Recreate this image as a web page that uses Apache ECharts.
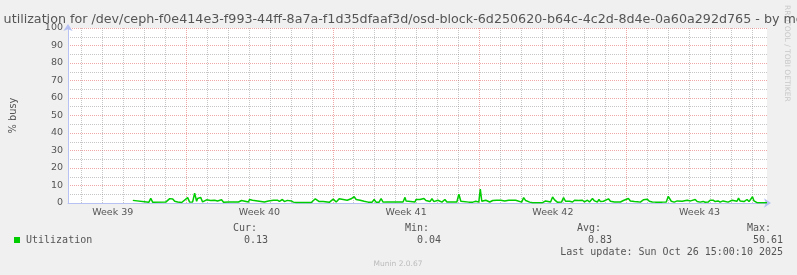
<!DOCTYPE html>
<html><head><meta charset="utf-8">
<script src="https://cdn.jsdelivr.net/npm/echarts@6/dist/echarts.min.js"></script>
<style>html,body{margin:0;padding:0;background:#F0F0F0;} #c{width:797px;height:275px;}</style>
</head><body><div id="c"></div>
<script>
const titleText = 'Disk utilization for /dev/ceph-f0e414e3-f993-44ff-8a7a-f1d35dfaaf3d/osd-block-6d250620-b64c-4c2d-8d4e-0a60a292d765 - by month';
const yAxisName = '% busy';
const weekLabels = ['Week 39', 'Week 40', 'Week 41', 'Week 42', 'Week 43'];
const weekLabelPos = [-3.5, 3.5, 10.5, 17.5, 24.5];
const weekStarts = [0, 7, 14, 21];
const xRange = [-5.633, 27.717]; // days relative to Mon 29 Sep 2025 00:00
const yTicks = [0, 10, 20, 30, 40, 50, 60, 70, 80, 90, 100];

// days since Mon 29 Sep 2025 00:00
const days = [
 -2.540,-2.445,-1.779,-1.684,-1.589,-0.970,-0.875,-0.780,-0.685,-0.637,-0.542,-0.495,-0.400,-0.209,
 0.076,0.171,0.314,0.409,0.504,0.552,0.647,0.695,0.790,0.980,1.075,1.170,1.265,1.361,1.456,1.503,1.598,1.693,1.789,
 2.026,2.502,2.645,2.740,2.978,3.025,3.168,3.263,3.739,3.929,4.024,4.167,4.262,4.357,4.453,4.595,4.690,4.833,4.928,
 5.023,5.119,5.261,5.975,6.070,6.165,6.260,6.355,6.546,6.641,6.831,
 7.021,7.116,7.164,7.307,7.402,7.497,7.592,7.687,7.782,7.878,7.925,8.020,8.116,8.211,8.306,8.401,8.496,8.591,8.686,
 8.877,8.972,9.067,9.162,9.209,9.305,9.400,9.543,10.351,10.447,10.494,10.589,10.922,10.970,11.065,11.160,11.255,
 11.350,11.445,11.540,11.636,11.731,11.826,12.016,12.111,12.207,12.349,12.444,12.920,13.015,13.110,13.158,13.491,
 13.586,13.681,13.824,13.872,13.967,14.038,14.109,14.157,14.300,14.395,14.490,14.633,14.728,14.823,14.918,15.013,
 15.108,15.204,15.299,15.394,15.489,15.727,15.822,16.012,16.107,16.203,16.298,16.393,16.536,17.011,17.154,17.249,
 17.392,17.487,17.582,17.630,17.725,17.915,18.010,18.106,18.201,18.296,18.367,18.438,18.534,18.629,18.724,18.819,
 18.914,19.010,19.152,19.248,19.390,19.486,19.557,19.628,19.700,19.771,19.914,20.009,20.152,20.247,20.342,20.437,
 20.509,20.580,20.652,20.723,20.866,20.961,21.103,21.199,21.294,21.389,21.460,21.532,21.603,21.675,21.817,21.889,
 22.008,22.103,22.175,22.246,22.317,22.389,22.531,22.626,22.722,22.912,23.007,23.055,23.150,23.219,23.290,23.433,
 23.528,23.671,23.766,23.909,24.004,24.075,24.147,24.290,24.385,24.456,24.528,24.670,24.766,24.908,25.004,25.146,
 25.242,25.384,25.480,25.622,25.717,25.860,25.955,26.050,26.145,26.288,26.359,26.431,26.526,26.621,26.764,26.859,
 27.025,27.097,27.240,27.716
];
const busy = [
 1.5,0.4,0.4,2.6,0.4,0.5,1.6,2.5,1.5,2.3,1.0,1.7,0.6,0.3,
 3.1,0.5,0.6,5.6,1.0,2.6,1.6,3.2,0.6,1.8,0.7,1.4,0.6,1.6,0.6,1.2,0.5,1.8,0.4,
 0.6,0.6,1.4,0.4,0.6,2.0,1.6,0.7,0.6,1.2,0.7,1.6,0.8,1.6,0.9,2.0,0.8,1.5,0.6,
 1.2,0.5,0.3,0.3,0.5,2.4,2.0,0.8,0.9,0.4,0.4,
 2.2,1.2,0.6,2.4,3.2,2.0,1.0,1.6,0.7,2.4,1.4,3.6,2.0,1.0,1.6,1.6,1.0,1.4,0.5,
 0.5,2.0,0.5,1.2,0.5,2.5,0.5,0.6,0.6,3.2,1.2,0.6,0.6,2.0,1.6,2.0,1.2,
 2.6,1.4,1.8,0.8,2.4,0.8,1.6,0.9,0.5,2.0,0.6,0.6,5.0,1.0,0.5,0.5,
 1.6,0.5,1.0,0.4,0.5,8.0,1.0,0.5,1.6,1.6,0.6,1.4,0.6,1.6,0.6,1.6,
 0.5,1.2,0.5,1.6,0.5,1.6,0.5,0.5,3.1,1.4,1.6,0.5,0.2,0.2,1.2,0.5,
 0.6,3.4,1.8,1.0,0.4,0.5,3.1,1.0,1.6,1.0,1.6,0.6,1.6,0.6,1.4,0.6,
 1.6,0.6,1.6,0.6,2.6,1.2,1.6,0.6,2.0,0.8,1.0,0.6,2.4,1.0,1.6,0.6,
 1.6,0.6,1.6,0.6,1.4,0.5,2.6,1.2,1.8,0.8,1.6,0.7,1.2,0.5,1.8,1.0,
 2.2,1.0,1.6,0.6,1.2,0.5,0.5,1.6,0.5,0.6,3.8,3.0,1.0,1.4,0.5,1.2,
 0.5,1.0,0.5,1.6,0.6,1.2,0.6,2.0,0.8,1.2,0.5,0.9,0.4,0.5,1.6,1.6,
 0.8,1.2,0.5,1.2,0.4,0.5,1.6,1.6,0.8,1.0,2.8,1.2,2.0,0.8,2.0,0.8,
 3.6,1.2,0.2,0.13
];

const seriesName = 'Utilization';
const legendHeaders = ['Cur:', 'Min:', 'Avg:', 'Max:'];
const legendValues = ['0.13', '0.04', '0.83', '50.61'];
const lastUpdate = 'Last update: Sun Oct 26 15:00:10 2025';
const footer = 'Munin 2.0.67';
const sideText = 'RRDTOOL / TOBI OETIKER';

// daily minor grid positions (not week starts)
const dayGrid = [];
for (let d = Math.ceil(xRange[0]); d <= Math.floor(xRange[1]); d++) {
  if (weekStarts.indexOf(d) < 0) dayGrid.push(d);
}

const FONT = 'DejaVu Sans';
const MONO = 'DejaVu Sans Mono';
const TXT = '#555555';
const AXIS = '#B8C2F2';
const MAJOR = 'rgba(226,80,80,0.5)';
const MINOR = 'rgba(120,120,120,0.42)';

const headerRight = [257, 429, 601, 771];
const valueRight = [268, 441, 612, 783];

const graphic = [
  {type: 'rect', shape: {x: 14, y: 237, width: 6, height: 6}, style: {fill: '#00CC00'}},
  {type: 'text', x: 26, y: 240, style: {text: seriesName, fill: TXT, fontSize: 10, fontFamily: MONO, align: 'left', verticalAlign: 'middle'}},
  {type: 'text', x: 783, y: 252, style: {text: lastUpdate, fill: TXT, fontSize: 10, fontFamily: MONO, align: 'right', verticalAlign: 'middle'}},
  {type: 'text', x: 398, y: 264, style: {text: footer, fill: '#BBBBBB', fontSize: 7.5, fontFamily: FONT, align: 'center', verticalAlign: 'middle'}},
  {type: 'text', x: 787, y: 5, rotation: -Math.PI / 2, style: {text: sideText, fill: '#C8C8C8', fontSize: 7.5, fontFamily: FONT, align: 'left', verticalAlign: 'middle'}}
];
legendHeaders.forEach((h, i) => {
  graphic.push({type: 'text', x: headerRight[i], y: 228, style: {text: h, fill: TXT, fontSize: 10, fontFamily: MONO, align: 'right', verticalAlign: 'middle'}});
  graphic.push({type: 'text', x: valueRight[i], y: 240, style: {text: legendValues[i], fill: TXT, fontSize: 10, fontFamily: MONO, align: 'right', verticalAlign: 'middle'}});
});

const chart = echarts.init(document.getElementById('c'), null, {renderer: 'canvas'});
chart.setOption({
  animation: false,
  backgroundColor: '#F0F0F0',
  title: {
    text: titleText, left: 'center', top: 8,
    textStyle: {fontFamily: FONT, fontSize: 12.7, fontWeight: 'normal', color: TXT}
  },
  grid: {left: 66, right: 30, top: 28, bottom: 72, show: true, backgroundColor: '#FFFFFF', borderWidth: 0},
  xAxis: [{
    type: 'value', min: xRange[0], max: xRange[1],
    axisLine: {show: true, onZero: false, lineStyle: {color: AXIS, width: 1}, symbol: ['none', 'arrow'], symbolSize: [7, 7], symbolOffset: [0, 4]},
    axisTick: {show: false, customValues: dayGrid},
    splitLine: {show: true, lineStyle: {color: MINOR, type: [1, 1], width: 1}},
    axisLabel: {
      customValues: weekLabelPos, margin: 5,
      fontFamily: FONT, fontSize: 9.5, color: TXT,
      formatter: v => { const i = weekLabelPos.indexOf(v); return i >= 0 ? weekLabels[i] : ''; }
    }
  }, {
    type: 'value', min: xRange[0], max: xRange[1],
    axisLine: {show: false, onZero: false}, axisLabel: {show: false},
    axisTick: {show: false, customValues: weekStarts},
    splitLine: {show: true, lineStyle: {color: MAJOR, type: [1, 1], width: 1}}
  }],
  yAxis: {
    type: 'value', min: yTicks[0], max: yTicks[yTicks.length - 1], interval: yTicks[1] - yTicks[0],
    name: yAxisName, nameLocation: 'middle', nameGap: 50,
    nameTextStyle: {fontFamily: FONT, fontSize: 9.8, color: TXT},
    axisLine: {show: true, onZero: false, lineStyle: {color: AXIS, width: 1}, symbol: ['none', 'arrow'], symbolSize: [7, 7], symbolOffset: [0, 4]},
    axisTick: {show: false},
    axisLabel: {fontFamily: FONT, fontSize: 9.5, color: TXT, margin: 5},
    splitLine: {show: true, lineStyle: {color: MAJOR, type: [1, 1], width: 1}},
    minorTick: {show: false, splitNumber: 2},
    minorSplitLine: {show: true, lineStyle: {color: MINOR, type: [1, 1], width: 1}}
  },
  graphic: graphic,
  series: [{
    name: seriesName, type: 'line', xAxisIndex: 0,
    data: days.map((d, i) => [d, busy[i]]),
    showSymbol: false, symbol: 'none',
    lineStyle: {color: '#00CC00', width: 1.5},
    z: 5
  }]
});
</script>
</body></html>
